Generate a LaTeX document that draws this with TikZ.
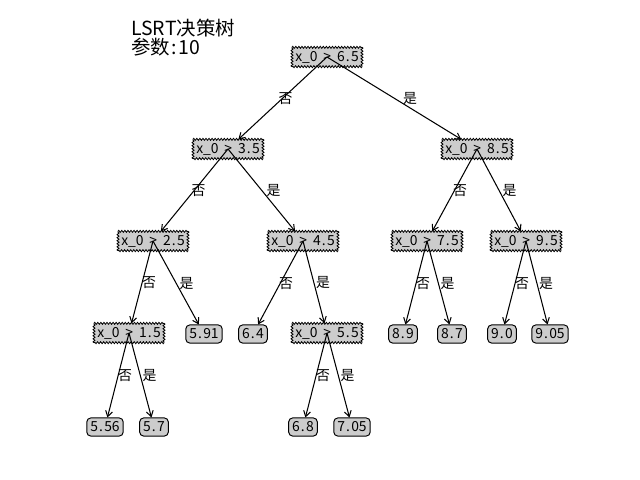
\documentclass[tikz,border=0pt]{standalone}
\usepackage{fontspec}
\setmainfont{Noto Sans CJK SC}
\usetikzlibrary{decorations.pathmorphing,calc,arrows.meta}
\newcommand{\wdot}{\makebox[0.45em][l]{\hspace{0.08em}.}}
\newcommand{\wsp}{\hspace{0.42em}}
\newcommand{\cond}[2]{x\_0\wsp>\wsp#1\wdot#2}
\newcommand{\val}[2]{#1\wdot#2}
\tikzset{
  decision/.style={fill=gray!40,
    minimum width=50pt, minimum height=13.5pt, inner sep=1pt,
    font=\fontsize{10}{12}\selectfont},
  zz/.style={line width=0.6pt, decoration={zigzag, segment length=2.2pt, amplitude=0.7pt}},
  leaf/.style={draw, line width=0.7pt, fill=gray!40, rounded corners=2.8pt,
    minimum height=13pt, inner xsep=2.5pt, inner ysep=1pt,
    font=\fontsize{10}{12}\selectfont},
  edge/.style={line width=0.75pt, -{Straight Barb[length=4pt,width=5pt,line width=0.75pt]}},
  elabel/.style={font=\fontsize{10}{12}\selectfont, inner sep=0pt}
}
\newcommand{\dnode}[3]{%
  \node[decision] (#1) at (#2) {#3};
  \draw[zz] decorate {(#1.north west) -- (#1.north east)}
            decorate {(#1.north east) -- (#1.south east)}
            decorate {(#1.south east) -- (#1.south west)}
            decorate {(#1.south west) -- (#1.north west)};}
\newcommand{\edgeto}[3]{%
  \draw[edge] (#1.center) -- (#2);
  \node[elabel] at ($(#1.center)!0.5!(#2.center)+(8,-4)$) {#3};}
\begin{document}
\begin{tikzpicture}[x=0.72pt,y=-0.72pt]
\useasboundingbox (0,0) rectangle (640,480);
\fill[white] (0,0) rectangle (640,480);
\node[anchor=west, align=left, inner sep=0pt, font=\fontsize{14}{13.5}\selectfont] (title) at (131,37.5) {LSRT决策树\\参数\makebox[0.45em]{:}10};
% decision nodes
\dnode{r}{327,57}{\cond{6}{5}}
\dnode{a}{228,149}{\cond{3}{5}}
\dnode{b}{477,149}{\cond{8}{5}}
\dnode{c}{153,241}{\cond{2}{5}}
\dnode{d}{303,241}{\cond{4}{5}}
\dnode{e}{427,241}{\cond{7}{5}}
\dnode{f}{526,241}{\cond{9}{5}}
\dnode{g}{129,333}{\cond{1}{5}}
\dnode{h}{327,333}{\cond{5}{5}}
% leaves
\node[leaf] (l591) at (204,334) {\val{5}{91}};
\node[leaf] (l64) at (253,334) {\val{6}{4}};
\node[leaf] (l89) at (403,334) {\val{8}{9}};
\node[leaf] (l87) at (452,334) {\val{8}{7}};
\node[leaf] (l90) at (502,334) {\val{9}{0}};
\node[leaf] (l905) at (550,334) {\val{9}{05}};
\node[leaf] (l556) at (105,427) {\val{5}{56}};
\node[leaf] (l57) at (154,427) {\val{5}{7}};
\node[leaf] (l68) at (303,427) {\val{6}{8}};
\node[leaf] (l705) at (352,427) {\val{7}{05}};
% edges
\edgeto{r}{a}{否}
\edgeto{r}{b}{是}
\edgeto{a}{c}{否}
\edgeto{a}{d}{是}
\edgeto{b}{e}{否}
\edgeto{b}{f}{是}
\edgeto{c}{g}{否}
\edgeto{c}{l591}{是}
\edgeto{d}{l64}{否}
\edgeto{d}{h}{是}
\edgeto{e}{l89}{否}
\edgeto{e}{l87}{是}
\edgeto{f}{l90}{否}
\edgeto{f}{l905}{是}
\edgeto{g}{l556}{否}
\edgeto{g}{l57}{是}
\edgeto{h}{l68}{否}
\edgeto{h}{l705}{是}
\end{tikzpicture}
\end{document}
